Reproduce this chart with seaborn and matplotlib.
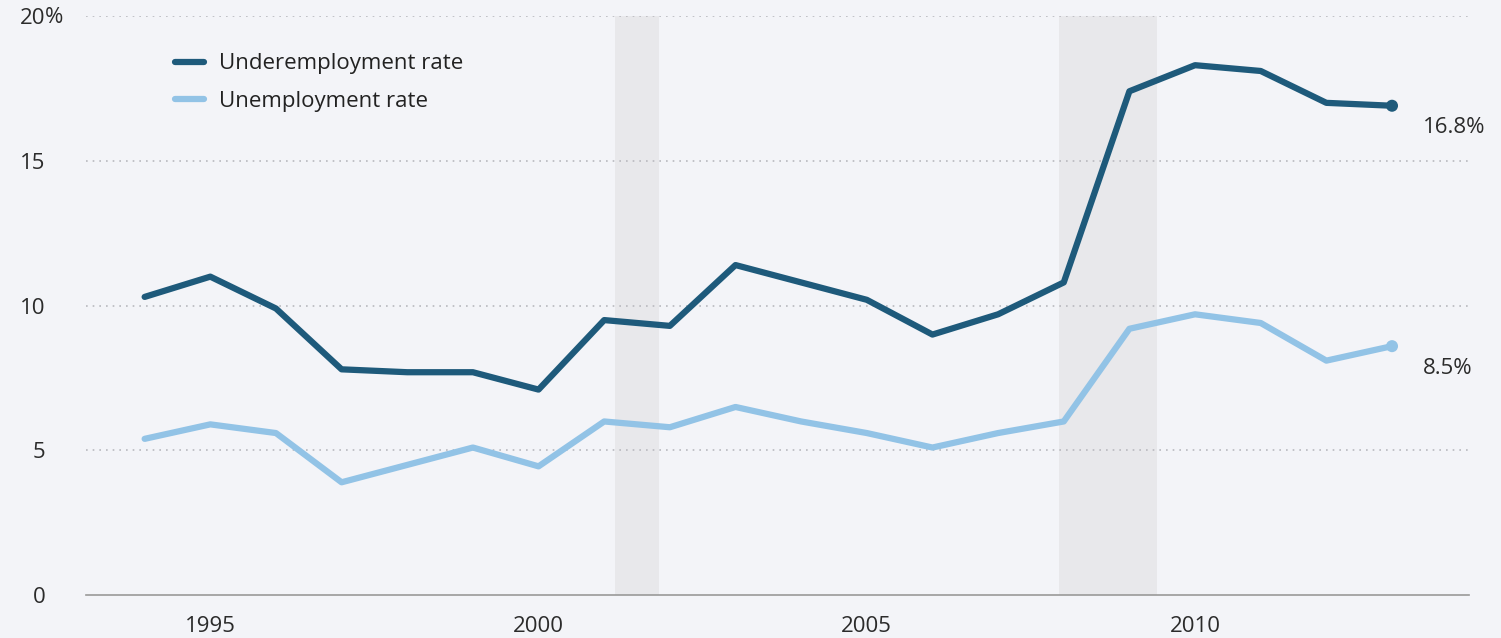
import matplotlib
matplotlib.use("Agg")
import matplotlib.pyplot as plt
import seaborn as sns
import pandas as pd
from matplotlib.lines import Line2D

years = list(range(1994, 2014))
underemployment = [10.3, 11.0, 9.9, 7.8, 7.7, 7.7, 7.1, 9.5, 9.3, 11.4, 10.8, 10.2,
                   9.0, 9.7, 10.8, 17.4, 18.3, 18.1, 17.0, 16.9]
unemployment = [5.4, 5.9, 5.6, 3.9, 4.5, 5.1, 4.45, 6.0, 5.8, 6.5, 6.0, 5.6,
                5.1, 5.6, 6.0, 9.2, 9.7, 9.4, 8.1, 8.6]
series_names = ["Underemployment rate", "Unemployment rate"]
end_labels = ["16.8%", "8.5%"]
recessions = [(2001.17, 2001.83), (2007.92, 2009.42)]
yticks = [0, 5, 10, 15, 20]
ytick_labels = ["0", "5", "10", "15", "20"]
xticks = [1995, 2000, 2005, 2010]

df = pd.DataFrame({
    "year": years * 2,
    "rate": underemployment + unemployment,
    "series": [series_names[0]] * len(years) + [series_names[1]] * len(years),
})

bg = "#f3f4f8"
dark = "#1e5a7b"
light = "#92c3e6"
txt = "#2b2b2b"
palette = {series_names[0]: dark, series_names[1]: light}

sns.set_theme(style="white")
plt.rcParams["font.family"] = ["Open Sans", "DejaVu Sans"]

fig = plt.figure(figsize=(15.01, 6.38), dpi=100, facecolor=bg)
ax = fig.add_axes([0.057, 0.067, 0.922, 0.908])
ax.set_facecolor(bg)

for a, b in recessions:
    ax.axvspan(a, b, color="#e8e8eb", zorder=0, lw=0)

for y in yticks[1:]:
    ax.axhline(y, color="#b8b8be", lw=1.2, ls=(0, (1, 3)), zorder=1)

sns.lineplot(data=df, x="year", y="rate", hue="series", palette=palette,
             linewidth=4.5, ax=ax, legend=False, zorder=3)
for a in ax.lines[-2:]:
    a.set_solid_capstyle("round")
    a.set_solid_joinstyle("round")

last = df[df["year"] == years[-1]]
sns.scatterplot(data=last, x="year", y="rate", hue="series", palette=palette,
                s=75, ax=ax, legend=False, zorder=4, edgecolor="none")

for val, lab in zip([underemployment[-1], unemployment[-1]], end_labels):
    ax.annotate(lab, (years[-1], val), xytext=(22, -16), textcoords="offset points",
                fontsize=16, color=txt, ha="left", va="center")

ax.set_xlim(1993.1, 2014.18)
ax.set_ylim(0, 20)
ax.set_xticks(xticks)
ax.set_xticklabels([str(x) for x in xticks], fontsize=16, color=txt)
ax.set_yticks(yticks)
ax.set_yticklabels(ytick_labels, fontsize=16, color=txt)
ax.text(-0.0295, 0.997, "%", transform=ax.transAxes, fontsize=16, color=txt,
        ha="left", va="center")
ax.tick_params(axis="x", length=7, width=1, color="#999999", direction="out", pad=8)
ax.tick_params(axis="y", length=0, pad=29)
for t in ax.get_yticklabels():
    t.set_horizontalalignment("right")
ax.set_xlabel("")
ax.set_ylabel("")
for s in ["top", "right", "left"]:
    ax.spines[s].set_visible(False)
ax.spines["bottom"].set_color("#999999")
ax.spines["bottom"].set_linewidth(1.2)

handles = [Line2D([0], [0], color=dark, lw=4.5), Line2D([0], [0], color=light, lw=4.5)]
leg = ax.legend(handles, series_names, loc="upper left", bbox_to_anchor=(0.05, 0.97),
                frameon=False, fontsize=16, handlelength=1.3, labelspacing=0.75,
                handletextpad=0.7)
for t in leg.get_texts():
    t.set_color("#222222")

fig.savefig("out.png", dpi=100, facecolor=bg)
